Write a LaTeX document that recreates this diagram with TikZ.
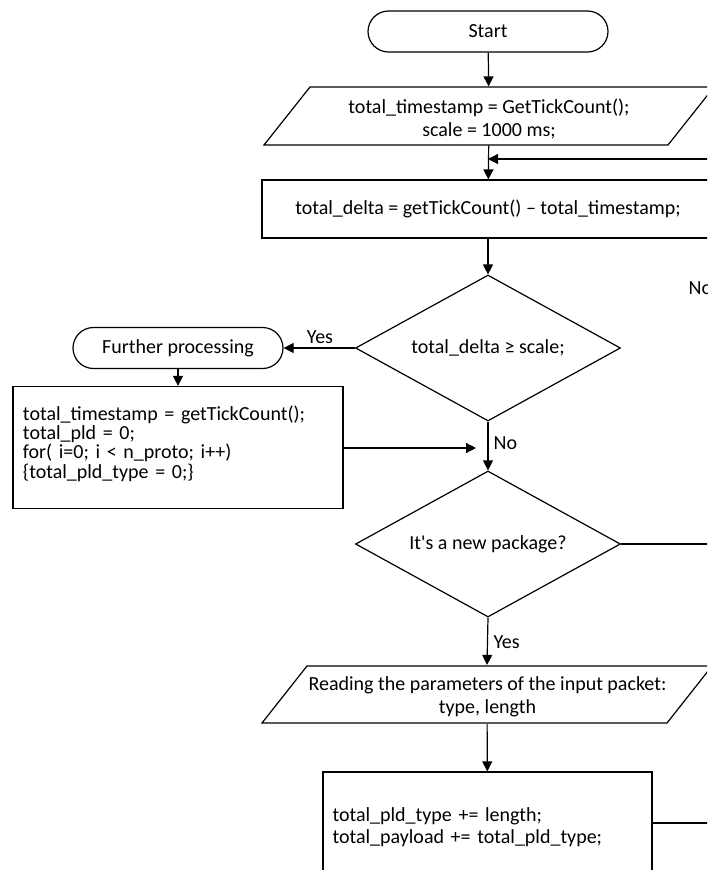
\documentclass[tikz,border=0pt]{standalone}
\usepackage{fontspec}
\newfontfamily\calib{Carlito}
\usetikzlibrary{shapes.geometric,arrows.meta,calc}
\begin{document}
\begin{tikzpicture}[x=1pt,y=-1pt,
  line width=1.2pt,
  font=\calib\fontsize{20}{23}\selectfont,
  every node/.style={inner sep=0pt},
  arr/.style={-{Triangle[length=10pt,width=10pt]}},
  term/.style={draw,rounded corners=20.5pt,minimum height=41pt},
  procbox/.style={draw,rectangle},
  iobody/.style={rectangle,minimum width=358pt,minimum height=58pt},
  decision/.style={draw,diamond,aspect=1.8,minimum width=265pt,minimum height=146pt},
  codetext/.style={text width=310pt,align=left},
  lbl/.style={inner sep=0pt}]
\useasboundingbox (0,0) rectangle (707,870);
\clip (0,0) rectangle (707,870);
% nodes
\node[term,minimum width=240pt] (start) at (488,31.5) {Start};
\node[iobody] (p1) at (489,116) {};
\draw (264,145) -- (310,87) -- (714,87) -- (668,145) -- cycle;
\node[align=center] (p1t) at (489,118.5) {total\_timestamp = GetTickCount();\\scale = 1000 ms;};
\node[procbox,minimum width=452pt,minimum height=58pt] (r1) at (488,209) {total\_delta = getTickCount() – total\_timestamp;};
\node[decision] (d1) at (488,348) {total\_delta ≥ scale;};
\node[term,minimum width=210pt] (fp) at (178,348) {Further processing};
\node[procbox,minimum width=330pt,minimum height=122pt] (r2) at (178,447.5) {};
\node[codetext,font=\calib\fontsize{20}{19.2}\selectfont] (r2t) at (178,443.5) {total\_timestamp = getTickCount();\\total\_pld = 0;\\for( i=0; i < n\_proto; i++)\\\{total\_pld\_type = 0;\}};
\node[decision] (d2) at (488,544) {It's a new package?};
\node[iobody,minimum width=360pt] (p2) at (487,694.5) {};
\draw (262,723) -- (307,666) -- (712,666) -- (667,723) -- cycle;
\node[align=center] (p2t) at (487.5,696.5) {Reading the parameters of the input packet:\\type, length};
\node[procbox,minimum width=329pt,minimum height=102pt] (r3) at (487.5,823) {};
\node[codetext,font=\calib\fontsize{20}{21.5}\selectfont] (r3t) at (487.5,827) {total\_pld\_type += length;\\total\_payload += total\_pld\_type;};
% free ends
\coordinate (loopin) at (720,159);
\coordinate (r2tip) at (476,448);
\coordinate (d2out) at (720,544);
\coordinate (r3out) at (720,823);
% connectors
\draw[arr] (start) -- (p1);
\draw[arr] (p1) -- (r1);
\draw[arr] (loopin) -- (r1.north |- loopin);
\draw[arr] (r1) -- (d1);
\draw[arr] (d1.west) -- (fp.east);
\draw[arr] (fp) -- (r2);
\draw[arr] (d1.south) -- (d2.north);
\draw[arr] (r2.east |- r2tip) -- (r2tip);
\draw (d2.east) -- (d2out);
\draw[arr] (d2.south) -- (p2.north);
\draw[arr] (p2) -- (r3);
\draw (r3.east) -- (r3out);
% labels
\node[lbl] (yes1) at (320,337) {Yes};
\node[lbl,anchor=west] (no1) at (493,443) {No};
\node[lbl,anchor=west] (yes2) at (493,642) {Yes};
\node[lbl,anchor=west] (no2) at (688,288) {No};
\end{tikzpicture}
\end{document}
